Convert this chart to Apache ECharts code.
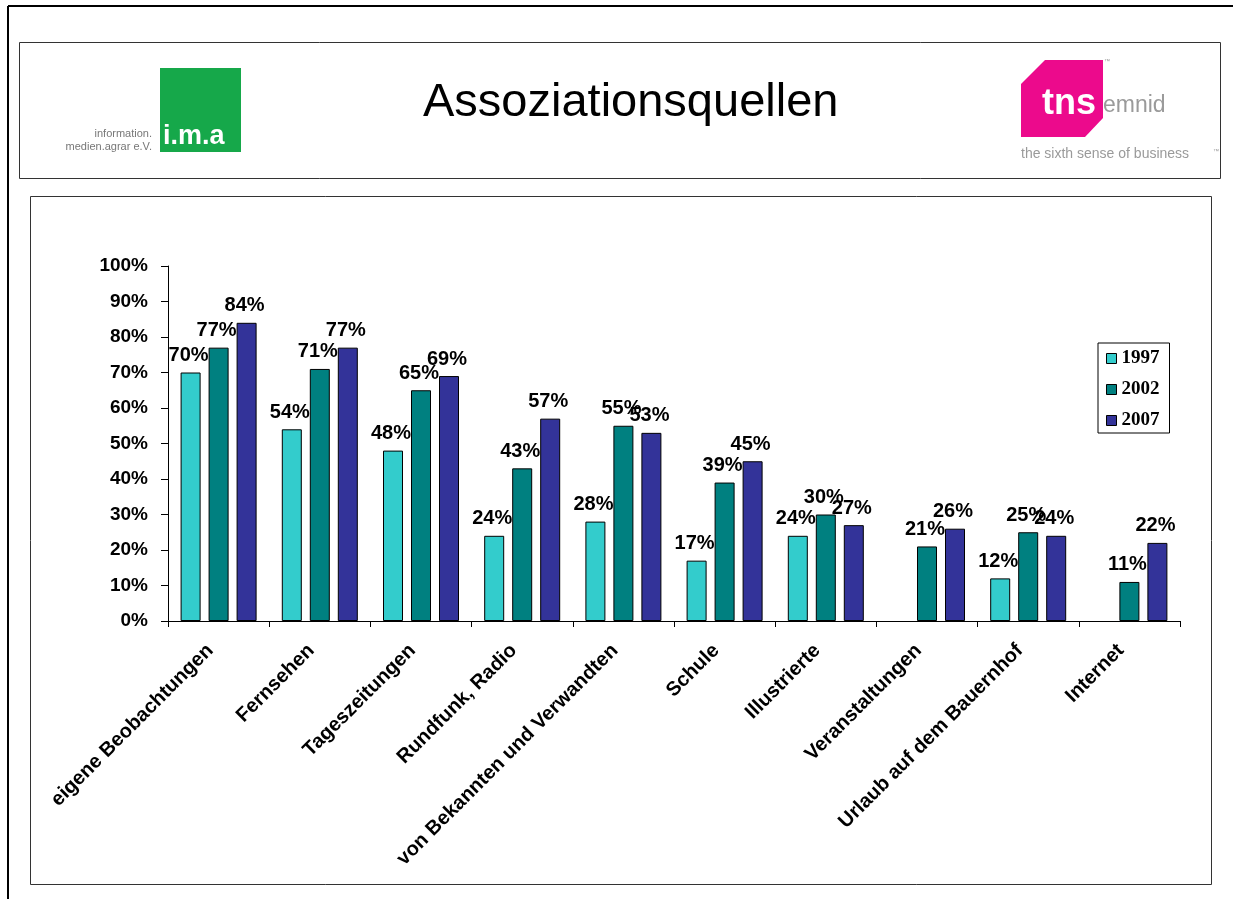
<!DOCTYPE html>
<html>
<head>
<meta charset="utf-8">
<title>Assoziationsquellen</title>
<script src="https://cdn.jsdelivr.net/npm/echarts@6/dist/echarts.min.js"></script>
<style>
  html, body { margin: 0; padding: 0; background: #fff; }
  #chart { width: 1233px; height: 899px; }
</style>
</head>
<body>
<div id="chart"></div>
<script>
// Kategorien und Werte (in %), '-' = kein Wert
const categories = [
  'eigene Beobachtungen', 'Fernsehen', 'Tageszeitungen', 'Rundfunk, Radio',
  'von Bekannten und Verwandten', 'Schule', 'Illustrierte', 'Veranstaltungen',
  'Urlaub auf dem Bauernhof', 'Internet'
];
const years = ['1997', '2002', '2007'];
const values1997 = [70, 54, 48, 24, 28, 17, 24, '-', 12, '-'];
const values2002 = [77, 71, 65, 43, 55, 39, 30, 21, 25, 11];
const values2007 = [84, 77, 69, 57, 53, 45, 27, 26, 24, 22];
const yTicks = [0, 10, 20, 30, 40, 50, 60, 70, 80, 90, 100];

const colors = ['#33CCCC', '#008080', '#333399'];
const sans = 'Liberation Sans, Arial, sans-serif';
const serif = 'Liberation Serif, Times New Roman, serif';

const chart = echarts.init(document.getElementById('chart'));

function makeSeries(name, data, color) {
  return {
    name: name,
    type: 'bar',
    data: data,
    barWidth: 20,
    barGap: '40%',
    itemStyle: { color: color, borderColor: '#000', borderWidth: 1 },
    label: {
      show: true,
      position: 'top',
      distance: 7,
      offset: [-2, 0],
      formatter: '{c}%',
      color: '#000',
      fontFamily: sans,
      fontWeight: 'bold',
      fontSize: 20
    }
  };
}

const option = {
  animation: false,
  backgroundColor: '#fff',
  grid: { left: 168, right: 53, top: 266, bottom: 278 },
  legend: {
    data: years,
    orient: 'vertical',
    left: 1098,
    top: 343,
    width: 71,
    padding: [6, 10, 3, 8],
    itemGap: 12,
    itemWidth: 10,
    itemHeight: 10,
    icon: 'rect',
    borderColor: '#000',
    borderWidth: 1,
    itemStyle: { borderColor: '#000', borderWidth: 1 },
    textStyle: { fontFamily: serif, fontWeight: 'bold', fontSize: 19, color: '#000' }
  },
  xAxis: {
    type: 'category',
    data: categories,
    axisLine: { lineStyle: { color: '#000', width: 1 } },
    axisTick: { show: true, length: 6, lineStyle: { color: '#000' } },
    axisLabel: {
      interval: 0,
      rotate: 45,
      margin: 18,
      padding: [0, 12, 0, 0],
      color: '#000',
      fontFamily: sans,
      fontWeight: 'bold',
      fontSize: 20
    }
  },
  yAxis: {
    type: 'value',
    min: yTicks[0],
    max: yTicks[yTicks.length - 1],
    interval: 10,
    splitLine: { show: false },
    axisLine: { show: true, lineStyle: { color: '#000', width: 1 } },
    axisTick: { show: true, length: 7, lineStyle: { color: '#000' } },
    axisLabel: {
      formatter: '{value}%',
      margin: 20,
      color: '#000',
      fontFamily: sans,
      fontWeight: 'bold',
      fontSize: 19
    }
  },
  graphic: [
    // äußerer Rahmen
    { type: 'line', shape: { x1: 8, y1: 6, x2: 1233, y2: 6 }, style: { stroke: '#000', lineWidth: 2 } },
    { type: 'line', shape: { x1: 8, y1: 6, x2: 8, y2: 899 }, style: { stroke: '#000', lineWidth: 2 } },
    // Kopfzeile
    { type: 'rect', shape: { x: 19.5, y: 42.5, width: 1201, height: 136 }, style: { fill: 'none', stroke: '#333', lineWidth: 1 } },
    // Diagrammrahmen
    { type: 'rect', shape: { x: 30.5, y: 196.5, width: 1181, height: 688 }, style: { fill: 'none', stroke: '#333', lineWidth: 1 } },
    // Titel
    {
      type: 'text', x: 423, y: 80,
      style: { text: 'Assoziationsquellen', font: '47px ' + sans, fill: '#000' }
    },
    // i.m.a Logo
    { type: 'rect', shape: { x: 160, y: 68, width: 81, height: 84 }, style: { fill: '#16A84A' } },
    {
      type: 'text', x: 163, y: 123,
      style: { text: 'i.m.a', font: 'bold 27px ' + sans, fill: '#fff' }
    },
    {
      type: 'text', x: 152, y: 128,
      style: { text: 'information.', font: '11px ' + sans, fill: '#777', align: 'right' }
    },
    {
      type: 'text', x: 152, y: 141,
      style: { text: 'medien.agrar e.V.', font: '11px ' + sans, fill: '#777', align: 'right' }
    },
    // tns emnid Logo
    {
      type: 'polygon',
      shape: { points: [[1021, 84], [1045, 60], [1103, 60], [1103, 118], [1085, 137], [1021, 137]] },
      style: { fill: '#EC0A8C' }
    },
    {
      type: 'text', x: 1042, y: 86,
      style: { text: 'tns', font: 'bold 36px ' + sans, fill: '#fff' }
    },
    {
      type: 'text', x: 1103, y: 94,
      style: { text: 'emnid', font: '23px ' + sans, fill: '#9a9a9a' }
    },
    {
      type: 'text', x: 1021, y: 147,
      style: { text: 'the sixth sense of business', font: '14px ' + sans, fill: '#9a9a9a' }
    },
    {
      type: 'text', x: 1104, y: 58,
      style: { text: '™', font: '6px ' + sans, fill: '#999' }
    },
    {
      type: 'text', x: 1213, y: 148,
      style: { text: '™', font: '6px ' + sans, fill: '#999' }
    }
  ],
  series: [
    makeSeries(years[0], values1997, colors[0]),
    makeSeries(years[1], values2002, colors[1]),
    makeSeries(years[2], values2007, colors[2])
  ]
};

chart.setOption(option);
</script>
</body>
</html>
